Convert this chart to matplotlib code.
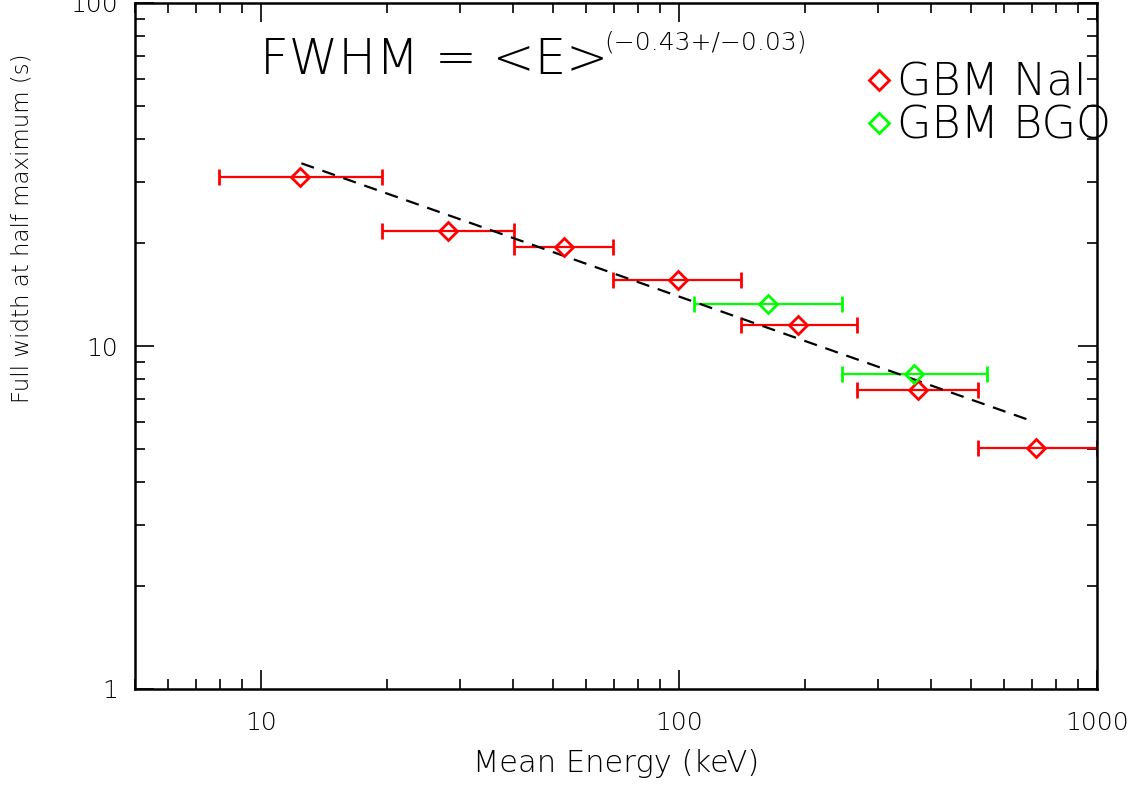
import matplotlib
matplotlib.use("Agg")
import matplotlib.pyplot as plt
import numpy as np
from matplotlib.lines import Line2D

# GBM NaI points: mean energy (keV), energy band edges, FWHM (s)
nai_energy = [12.4, 28.1, 53.2, 99.5, 193.0, 374.0, 715.0]
nai_lo = [7.94, 19.5, 40.4, 69.6, 140.6, 267.0, 520.0]
nai_hi = [19.5, 40.4, 69.6, 140.6, 267.0, 520.0, 1000.0]
nai_fwhm = [31.1, 21.6, 19.4, 15.6, 11.5, 7.44, 5.04]

# GBM BGO points
bgo_energy = [163.0, 364.0]
bgo_lo = [108.6, 245.0]
bgo_hi = [245.0, 546.0]
bgo_fwhm = [13.3, 8.28]

# power-law fit FWHM = A * E^index
fit_norm = 101.0
fit_index = -0.43
fit_range = [12.5, 700.0]

plt.rcParams['font.family'] = ['DejaVu Sans']
plt.rcParams['font.weight'] = 'light'

fig = plt.figure(figsize=(11.4, 7.88), dpi=100)
ax = fig.add_axes([135/1140, 1-689/788, 962/1140, 686/788])

def draw(energy, lo, hi, fwhm, color):
    energy = np.array(energy)
    xerr = [energy - np.array(lo), np.array(hi) - energy]
    ax.errorbar(energy, fwhm, xerr=xerr, fmt='D', color=color, mfc='none',
                mec=color, mew=2, ms=9.5, elinewidth=1.6, capsize=6, capthick=1.6)

draw(nai_energy, nai_lo, nai_hi, nai_fwhm, '#ff0000')
draw(bgo_energy, bgo_lo, bgo_hi, bgo_fwhm, '#00ff00')

xf = np.logspace(np.log10(fit_range[0]), np.log10(fit_range[1]), 50)
ax.plot(xf, fit_norm * xf**fit_index, color='black', lw=1.6, ls=(0, (6, 4)))

ax.set_xscale('log')
ax.set_yscale('log')
ax.set_xlim(5, 1000)
ax.set_ylim(1, 100)
ax.set_xticks([10, 100, 1000])
ax.set_xticklabels(['10', '100', '1000'])
ax.set_yticks([1, 10, 100])
ax.set_yticklabels(['1', '10', '100'])

ax.tick_params(which='both', direction='in', top=True, right=True, width=1.2, color='black')
ax.tick_params(which='major', length=14, labelsize=18)
ax.tick_params(which='minor', length=7)
ax.tick_params(axis='x', which='major', pad=16)
ax.tick_params(axis='y', which='major', pad=12)
for s in ax.spines.values():
    s.set_linewidth(1.8)

ax.set_xlabel('Mean Energy (keV)', fontsize=22, fontweight='light')
ax.set_ylabel('Full width at half maximum (s)', fontsize=16.5, fontweight='light')
ax.xaxis.set_label_coords(0.5, -0.088)
ax.yaxis.set_label_coords(-0.105, 0.672)

t1 = ax.text(0.13, 0.897, 'FWHM = <E>', transform=ax.transAxes, fontsize=36,
             ha='left', va='baseline')
ax.annotate('(\u22120.43+/\u22120.03)', xy=(0.99, 0.72), xycoords=t1, fontsize=18,
            ha='left', va='baseline')

handles = [Line2D([], [], ls='none', marker='D', ms=10, mfc='none', mec='#ff0000', mew=2),
           Line2D([], [], ls='none', marker='D', ms=10, mfc='none', mec='#00ff00', mew=2)]
ax.legend(handles, ['GBM NaI', 'GBM BGO'], loc='upper left', bbox_to_anchor=(0.76, 0.915),
          frameon=False, fontsize=32, handlelength=0.6, handletextpad=0.1,
          labelspacing=0.0, borderpad=0, borderaxespad=0)

fig.savefig('out.png', dpi=100)
